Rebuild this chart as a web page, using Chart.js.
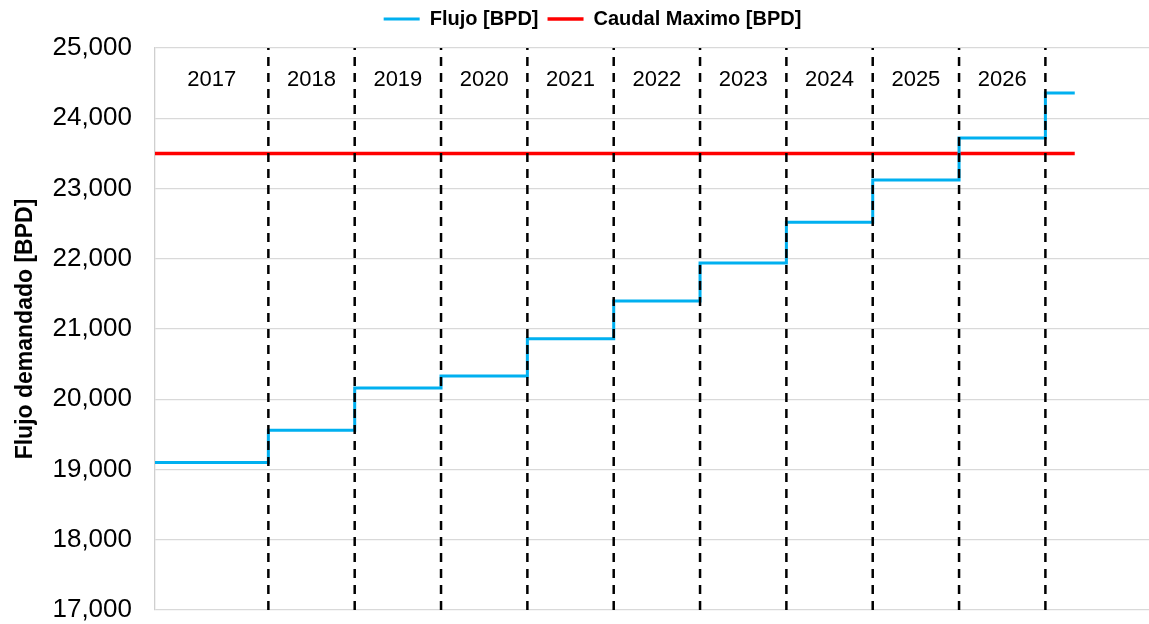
<!DOCTYPE html>
<html>
<head>
<meta charset="utf-8">
<script src="https://cdn.jsdelivr.net/npm/chart.js@4/dist/chart.umd.min.js"></script>
<style>
  html, body { margin:0; padding:0; background:#fff; }
  #wrap { width:1149px; height:624px; }
</style>
</head>
<body>
<div id="wrap"><canvas id="flowChart" width="1149" height="624"></canvas></div>
<script>
// data
const years = [2017, 2018, 2019, 2020, 2021, 2022, 2023, 2024, 2025, 2026];
const flowValues = [19100, 19560, 20160, 20330, 20860, 21400, 21940, 22520, 23120, 23720, 24360]; // last = 2027 step
const maxFlow = 23500;
const boundaries = [2018, 2019, 2020, 2021, 2022, 2023, 2024, 2025, 2026, 2027];
const xStart = 2016.687, xEnd = 2027.34, xAxisMax = 2028.2;
const yMin = 17000, yMax = 25000, yStep = 1000;
const yearLabelY = 24545;

const FONT = "'Liberation Sans', Arial, sans-serif";

// step series: one point at each boundary, plus start/end
const stepData = [{ x: xStart, y: flowValues[0] }]
  .concat(boundaries.map((b, i) => ({ x: b, y: flowValues[i + 1] })))
  .concat([{ x: xEnd, y: flowValues[flowValues.length - 1] }]);

const dividerSets = boundaries.map(b => ({
  label: 'div' + b,
  data: [{ x: b, y: yMin }, { x: b, y: yMax }],
  borderColor: '#000',
  borderWidth: 2.5,
  borderDash: [9, 7],
  pointRadius: 0,
  order: -1
}));

// year names centred in each interval
const yearLabels = {
  id: 'yearLabels',
  afterDatasetsDraw(chart){
    const { ctx, scales:{ x, y } } = chart;
    const edges = [xStart].concat(boundaries);
    ctx.save();
    ctx.font = '22px ' + FONT;
    ctx.fillStyle = '#000';
    ctx.textAlign = 'center';
    ctx.textBaseline = 'middle';
    years.forEach((yr, i) => {
      const mid = (edges[i] + edges[i + 1]) / 2;
      ctx.fillText(String(yr), x.getPixelForValue(mid), y.getPixelForValue(yearLabelY));
    });
    ctx.restore();
  }
};

// leave room under the legend
const legendGap = {
  id: 'legendGap',
  beforeInit(chart){
    const fit = chart.legend.fit;
    chart.legend.fit = function(){ fit.bind(chart.legend)(); this.height += 9; };
  }
};

new Chart(document.getElementById('flowChart').getContext('2d'), {
  type: 'line',
  data: {
    datasets: [
      { label: 'Flujo [BPD]', data: stepData, stepped: true, borderColor: '#00B0F0', borderWidth: 3, pointRadius: 0, order: 0 },
      { label: 'Caudal Maximo [BPD]', data: [{ x: xStart, y: maxFlow }, { x: xEnd, y: maxFlow }], borderColor: '#FF0000', borderWidth: 3.5, pointRadius: 0, order: 0 }
    ].concat(dividerSets)
  },
  options: {
    responsive: false,
    animation: false,
    layout: { padding: { left: 36, right: 0, top: 0, bottom: 14 } },
    plugins: {
      legend: {
        position: 'top',
        labels: {
          filter: item => !item.text.startsWith('div'),
          usePointStyle: true,
          pointStyle: 'line',
          pointStyleWidth: 36,
          padding: 9,
          color: '#000',
          font: { family: FONT, size: 20, weight: 'bold' }
        }
      },
      tooltip: { enabled: false }
    },
    scales: {
      x: { type: 'linear', display: false, min: xStart, max: xAxisMax },
      y: {
        min: yMin, max: yMax,
        afterFit(scale){ scale.width = 119; scale.paddingTop = 0; scale.paddingBottom = 0; },
        ticks: {
          stepSize: yStep,
          padding: 23,
          color: '#000',
          font: { family: FONT, size: 26 },
          callback: v => Number(v).toLocaleString('en-US')
        },
        grid: { color: '#d9d9d9', lineWidth: 1.3, drawTicks: false },
        border: { color: '#cfcfcf', width: 1.3 },
        title: {
          display: true,
          text: 'Flujo demandado [BPD]',
          color: '#000',
          padding: { top: -24, bottom: 0 },
          font: { family: FONT, size: 23, weight: 'bold' }
        }
      }
    }
  },
  plugins: [yearLabels, legendGap]
});
</script>
</body>
</html>
